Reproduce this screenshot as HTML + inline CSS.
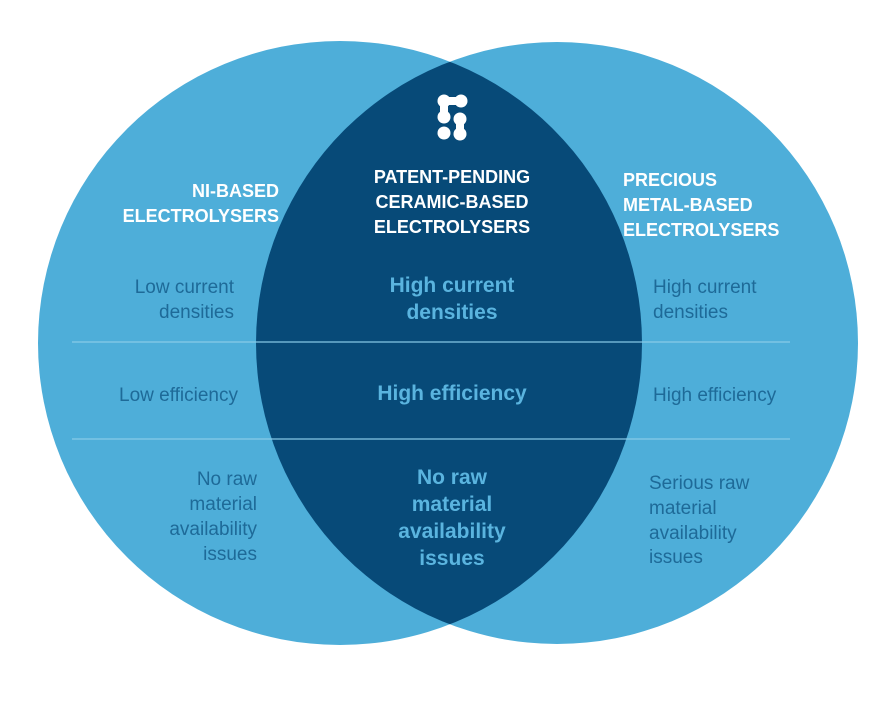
<!DOCTYPE html>
<html><head><meta charset="utf-8"><style>
html,body{margin:0;padding:0;background:#fff;}
svg{display:block;}
text{font-family:"Liberation Sans","DejaVu Sans",sans-serif;}
.h{fill:#fff;font-weight:bold;font-size:18px;}
.l{fill:#1e6a98;font-size:19px;}
.c{fill:#5ab4df;font-size:21px;font-weight:bold;}
</style></head><body>
<svg width="891" height="711" viewBox="0 0 891 711">
<defs><clipPath id="cl"><circle cx="340" cy="343" r="302"/></clipPath></defs>
<circle cx="340" cy="343" r="302" fill="#4eaed9"/>
<circle cx="557" cy="343" r="301" fill="#4eaed9"/>
<circle cx="557" cy="343" r="301" fill="#074a78" clip-path="url(#cl)"/>
<line x1="72" y1="342" x2="790" y2="342" stroke="#8ccbe9" stroke-width="1.5" opacity="0.8"/>
<line x1="72" y1="439" x2="790" y2="439" stroke="#8ccbe9" stroke-width="1.5" opacity="0.8"/>
<g fill="#fff">
<circle cx="444" cy="101" r="6.5"/><circle cx="461" cy="101" r="6.5"/>
<circle cx="444" cy="117" r="6.5"/><circle cx="460" cy="119" r="6.5"/>
<circle cx="444" cy="133" r="6.5"/><circle cx="460" cy="134" r="6.5"/>
</g>
<g stroke="#fff" stroke-width="8" fill="none">
<path d="M444 101 L461 101 M444 101 L444 117 M460 119 L460 134"/>
</g>
<g class="h" text-anchor="end"><text x="279" y="197">NI-BASED</text><text x="279" y="222">ELECTROLYSERS</text></g>
<g class="h" text-anchor="middle"><text x="452" y="183">PATENT-PENDING</text><text x="452" y="208">CERAMIC-BASED</text><text x="452" y="233">ELECTROLYSERS</text></g>
<g class="h"><text x="623" y="186">PRECIOUS</text><text x="623" y="211">METAL-BASED</text><text x="623" y="236">ELECTROLYSERS</text></g>
<g class="l" text-anchor="end"><text x="234" y="293">Low current</text><text x="234" y="318">densities</text>
<text x="238" y="401">Low efficiency</text>
<text x="257" y="485">No raw</text><text x="257" y="510">material</text><text x="257" y="535">availability</text><text x="257" y="560">issues</text></g>
<g class="c" text-anchor="middle"><text x="452" y="292">High current</text><text x="452" y="319">densities</text>
<text x="452" y="400">High efficiency</text>
<text x="452" y="484">No raw</text><text x="452" y="511">material</text><text x="452" y="538">availability</text><text x="452" y="565">issues</text></g>
<g class="l"><text x="653" y="293">High current</text><text x="653" y="318">densities</text>
<text x="653" y="401">High efficiency</text>
<text x="649" y="489">Serious raw</text><text x="649" y="514">material</text><text x="649" y="539">availability</text><text x="649" y="563">issues</text></g>
</svg>
</body></html>
